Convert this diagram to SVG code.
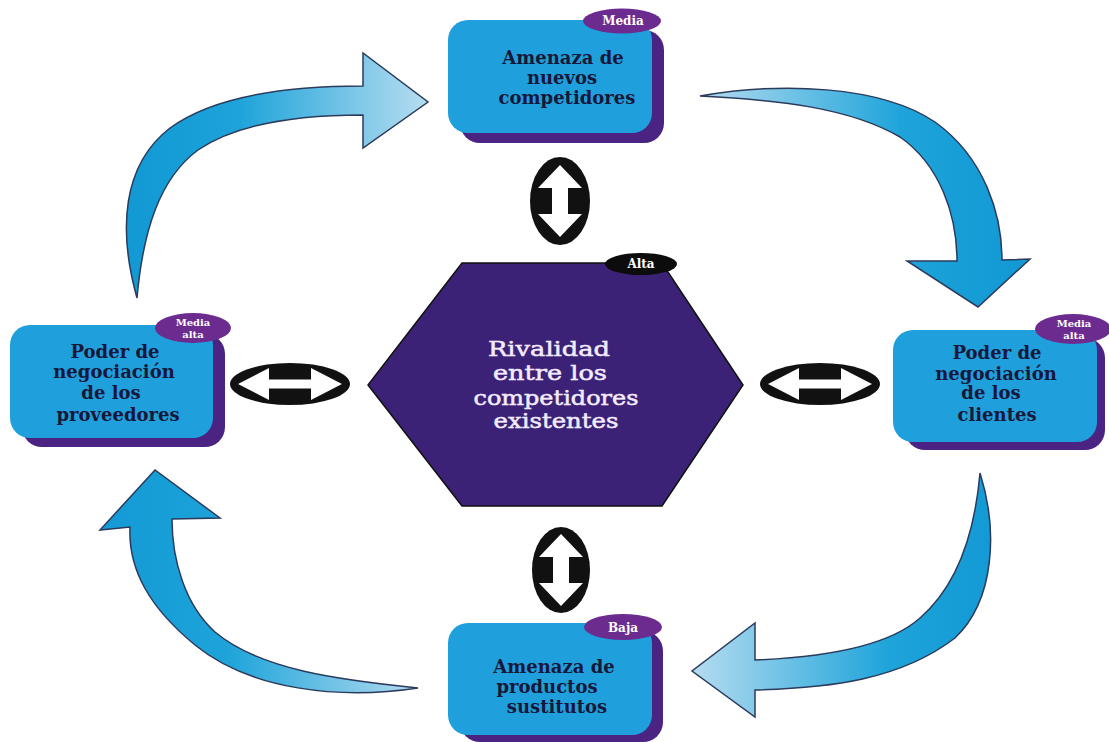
<svg xmlns="http://www.w3.org/2000/svg" width="1109" height="742" viewBox="0 0 1109 742">
<style>
.box{fill:#1fa0dc}
.shadow{fill:#4b2382}
.badge{fill:#6c2b8f}
.ntext{font-family:"DejaVu Serif","Liberation Serif",serif;font-weight:bold;font-size:18px;fill:#17173a;text-anchor:middle}
.btext{font-family:"DejaVu Serif","Liberation Serif",serif;font-weight:bold;font-size:12px;fill:#ffffff;text-anchor:middle}
.btext2{font-family:"DejaVu Serif","Liberation Serif",serif;font-weight:bold;font-size:10px;fill:#ffffff;text-anchor:middle}
.htext{font-family:"DejaVu Serif","Liberation Serif",serif;font-size:20px;fill:#f3ecff;stroke:#f3ecff;stroke-width:0.5;text-anchor:middle}
.curve{stroke:#2b3b5c;stroke-width:1.5;stroke-linejoin:miter}
.ring{fill:#111111}
.dbl{fill:#ffffff}
</style>
<defs>
<linearGradient id="gA1" gradientUnits="userSpaceOnUse" x1="140" y1="0" x2="425" y2="0">
<stop offset="0" stop-color="#1399d4"/><stop offset="0.35" stop-color="#1ea4da"/><stop offset="1" stop-color="#b5dcf0"/>
</linearGradient>
<linearGradient id="gA2" gradientUnits="userSpaceOnUse" x1="700" y1="0" x2="1010" y2="0">
<stop offset="0" stop-color="#b5dcf0"/><stop offset="0.65" stop-color="#1ea4da"/><stop offset="1" stop-color="#1399d4"/>
</linearGradient>
<linearGradient id="gA3" gradientUnits="userSpaceOnUse" x1="692" y1="0" x2="995" y2="0">
<stop offset="0" stop-color="#b5dcf0"/><stop offset="0.65" stop-color="#1ea4da"/><stop offset="1" stop-color="#1399d4"/>
</linearGradient>
<linearGradient id="gA4" gradientUnits="userSpaceOnUse" x1="420" y1="0" x2="100" y2="0">
<stop offset="0" stop-color="#b5dcf0"/><stop offset="0.6" stop-color="#1ea4da"/><stop offset="1" stop-color="#1399d4"/>
</linearGradient>
</defs>
<rect width="1109" height="742" fill="#ffffff"/>

<g id="connectors">
<path class="curve" fill="url(#gA1)" d="M137,298 C118,230 122,165 170,128 C215,95 290,86 363,86 L363,53 L428,102 L363,148 L363,115 C290,115 235,125 198,150 C160,178 143,230 137,298 Z"/>
<path class="curve" fill="url(#gA2)" d="M700,96 C780,82 880,85 935,122 C985,158 1002,215 1002,260 L1030,259 L978,307 L907,261 L957,261 C957,215 940,165 900,137 C850,108 780,100 700,96 Z"/>
<path class="curve" fill="url(#gA3)" d="M980,473 C998,530 995,600 955,638 C900,680 830,688 755,690 L755,717 L692,671 L755,623 L755,660 C830,657 890,645 920,618 C958,585 975,530 980,473 Z"/>
<path class="curve" fill="url(#gA4)" d="M418,688 C340,700 250,690 195,645 C150,608 128,570 130,527 L100,530 L155,470 L220,518 L172,519 C172,560 185,605 215,632 C260,670 340,680 418,688 Z"/>

<g id="dbl-top">
<ellipse class="ring" cx="560" cy="201" rx="30" ry="44"/>
<polygon class="dbl" points="560,165 582,188 568,188 568,214 582,214 560,237 538,214 552,214 552,188 538,188"/>
</g>
<g id="dbl-bottom">
<ellipse class="ring" cx="561" cy="570" rx="29" ry="43"/>
<polygon class="dbl" points="561,534 583,557 569,557 569,583 583,583 561,606 539,583 553,583 553,557 539,557"/>
</g>
<g id="dbl-left">
<ellipse class="ring" cx="290" cy="384" rx="60" ry="21"/>
<polygon class="dbl" points="238,384 269,368 269,379.5 311,379.5 311,368 342,384 311,400 311,388.5 269,388.5 269,400"/>
</g>
<g id="dbl-right">
<ellipse class="ring" cx="820" cy="384" rx="60" ry="21"/>
<polygon class="dbl" points="768,384 799,368 799,379.5 841,379.5 841,368 872,384 841,400 841,388.5 799,388.5 799,400"/>
</g>
</g>

<g id="node-top">
<rect class="shadow" x="460" y="30" width="204" height="113" rx="20"/>
<rect class="box" x="448" y="20" width="204" height="113" rx="20"/>
<ellipse class="badge" cx="622" cy="21" rx="39" ry="12.5"/>
<text class="btext" x="623" y="25">Media</text>
<text class="ntext" x="563" y="64">Amenaza de</text>
<text class="ntext" x="562" y="84">nuevos</text>
<text class="ntext" x="567" y="104">competidores</text>
</g>

<g id="node-left">
<rect class="shadow" x="22" y="334" width="203" height="113" rx="20"/>
<rect class="box" x="10" y="325" width="203" height="113" rx="20"/>
<ellipse class="badge" cx="193" cy="328" rx="38" ry="15"/>
<text class="btext2" x="193" y="326">Media</text>
<text class="btext2" x="193" y="338">alta</text>
<text class="ntext" x="115" y="358">Poder de</text>
<text class="ntext" x="114" y="378">negociación</text>
<text class="ntext" x="111" y="399">de los</text>
<text class="ntext" x="118" y="421">proveedores</text>
</g>

<g id="node-right">
<rect class="shadow" x="905" y="338" width="200" height="112" rx="20"/>
<rect class="box" x="893" y="330" width="204" height="112" rx="20"/>
<ellipse class="badge" cx="1073" cy="329" rx="38" ry="15"/>
<text class="btext2" x="1074" y="327">Media</text>
<text class="btext2" x="1074" y="339">alta</text>
<text class="ntext" x="997" y="359">Poder de</text>
<text class="ntext" x="996" y="380">negociación</text>
<text class="ntext" x="991" y="399">de los</text>
<text class="ntext" x="997" y="421">clientes</text>
</g>

<g id="node-bottom">
<rect class="shadow" x="460" y="631" width="203" height="111" rx="20"/>
<rect class="box" x="448" y="623" width="204" height="112" rx="20"/>
<ellipse class="badge" cx="623" cy="627" rx="39" ry="13"/>
<text class="btext" x="623" y="632">Baja</text>
<text class="ntext" x="554" y="673">Amenaza de</text>
<text class="ntext" x="547" y="693">productos</text>
<text class="ntext" x="557" y="713">sustitutos</text>
</g>

<g id="node-center">
<polygon points="462,263 662,263 743,385 662,506 462,506 368,385" fill="#3c2277" stroke="#111111" stroke-width="1.5"/>
<ellipse cx="641" cy="264" rx="36" ry="11" fill="#0c0c0c"/>
<text class="btext" x="641" y="268">Alta</text>
<text class="htext" x="549" y="356" textLength="122" lengthAdjust="spacingAndGlyphs">Rivalidad</text>
<text class="htext" x="550" y="380" textLength="114" lengthAdjust="spacingAndGlyphs">entre  los</text>
<text class="htext" x="556" y="405" textLength="165" lengthAdjust="spacingAndGlyphs">competidores</text>
<text class="htext" x="556" y="428" textLength="125" lengthAdjust="spacingAndGlyphs">existentes</text>
</g>
</svg>
